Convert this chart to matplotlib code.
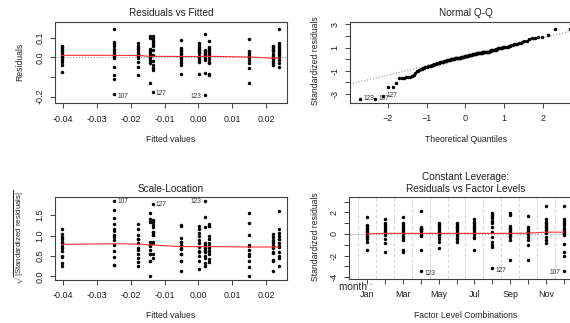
import statistics
import numpy as np
import matplotlib
matplotlib.use('Agg')
import matplotlib.pyplot as plt

plt.rcParams['font.family'] = ['Liberation Sans', 'DejaVu Sans']
plt.rcParams['mathtext.fontset'] = 'custom'
plt.rcParams['mathtext.rm'] = 'Liberation Sans'

##########################
# data
##########################

months = ['Jan', 'Feb', 'Mar', 'Apr', 'May', 'Jun',
          'Jul', 'Aug', 'Sep', 'Oct', 'Nov', 'Dec']

# fitted value (group mean) of each month
fitted = [-0.0053, -0.0178, 0.0031, 0.0019, -0.0405, 0.0222,
          0.0002, -0.0136, -0.0143, 0.0150, 0.0238, -0.0251]

# standardized residuals per month
sr_jan = [1.60, 0.87, 0.72, 0.58, 0.44, 0.30, 0.15, 0.02, -0.15, -0.30, -0.50, -0.70, -1.52]
sr_feb = [1.35, 1.04, 0.86, 0.67, 0.49, 0.31, 0.20, 0.12, -0.06, -0.43, -0.86, -1.65]
sr_mar = [1.53, 0.98, 0.83, 0.67, 0.49, 0.31, 0.12, -0.18, -0.40, -0.55, -1.50, -1.65]
sr_apr = [2.11, 0.67, 0.58, 0.50, 0.42, 0.35, 0.25, 0.10, -0.06, -0.21, -1.47, -3.45]
sr_may = [1.06, 0.94, 0.82, 0.67, 0.54, 0.40, 0.23, 0.10, -0.07, -0.25, -0.48, -0.73, -1.34]
sr_jun = [1.06, 0.93, 0.78, 0.66, 0.54, 0.35, 0.16, 0.02, -0.14, -0.33, -0.49, -0.71]
sr_jul = [1.35, 1.13, 0.98, 0.80, 0.67, 0.52, 0.37, 0.15, -0.03, -0.24, -0.40, -1.50]
sr_aug = [1.93, 1.80, 1.59, 1.44, 1.20, 1.04, 0.67, 0.21, -0.31, -0.70, -1.01, -1.16, -3.18]
sr_sep = [1.96, 1.80, 0.73, 0.58, 0.43, 0.31, 0.15, 0.00, -0.15, -0.31, -0.55, -2.39]
sr_oct = [1.71, 0.61, 0.43, 0.31, 0.15, 0.05, 0.00, -0.24, -0.55, -1.01, -2.42]
sr_nov = [2.57, 1.35, 1.13, 0.98, 0.83, 0.67, 0.52, 0.37, 0.21, 0.06, -0.24, -0.55, -0.86]
sr_dec = [2.62, 1.37, 1.22, 1.05, 0.80, 0.60, 0.40, 0.22, 0.08, -0.08, -0.94, -1.63, -2.02, -3.40]

std_res = [sr_jan, sr_feb, sr_mar, sr_apr, sr_may, sr_jun,
           sr_jul, sr_aug, sr_sep, sr_oct, sr_nov, sr_dec]

resid_scale = 0.055  # raw residual per standardized unit

# red smoother lines, value at each month
smooth_resid = [0.004, 0.009, 0.005, 0.005, 0.010, -0.005,
                0.004, 0.005, 0.005, 0.0015, -0.005, 0.010]
smooth_scale = [0.73, 0.79, 0.73, 0.73, 0.785, 0.72,
                0.73, 0.77, 0.77, 0.72, 0.72, 0.80]
smooth_lev = [0.0, 0.06, 0.06, 0.06, 0.06, 0.06,
              0.06, 0.06, 0.06, 0.08, 0.17, 0.17]

# labelled observations (lowest point of the month)
labelled = [('Apr', 123), ('Aug', 127), ('Dec', 107)]

##########################
# derived series
##########################

fx, rs, mi = [], [], []
for k, vals in enumerate(std_res):
	for v in vals:
		fx.append(fitted[k])
		rs.append(v)
		mi.append(k + 1)
fx = np.array(fx)
rs = np.array(rs)
mi = np.array(mi)
res = rs * resid_scale
sq = np.sqrt(np.abs(rs))

lab_pts = []
for m, obs in labelled:
	k = months.index(m)
	idx = np.where(mi == k + 1)[0]
	j = idx[np.argmin(rs[idx])]
	lab_pts.append((j, str(obs)))

W, H = 570, 323
fig = plt.figure(figsize=(W / 100, H / 100), dpi=100)

def box(l, t, r, b):
	ax = fig.add_axes([l / W, 1 - b / H, (r - l) / W, (b - t) / H])
	for s in ax.spines.values():
		s.set_color('#404040')
		s.set_linewidth(0.8)
	ax.tick_params(direction='out', length=3.6, width=0.7, color='#404040',
		labelsize=6.5, pad=4.5, labelcolor='#222222')
	ax.tick_params(axis='y', labelrotation=90, pad=4.0)
	for t in ax.get_yticklabels():
		t.set_va('center')
	return ax

def ftext(x, y, s, size=6.2, **kw):
	fig.text(x / W, 1 - y / H, s, fontsize=size, ha='center', va='center',
		color='#222222', **kw)

def dots(ax, x, y):
	ax.plot(x, y, 'o', ms=2.5, mew=0, color='black', clip_on=False)

def label(ax, x, y, s, right=True, dy=-1.5):
	ax.annotate(s, (x, y), xytext=(2.5 if right else -2.5, dy),
		textcoords='offset points', fontsize=4.8, color='#333333',
		ha='left' if right else 'right', va='center')

order = np.argsort(fitted)
fit_sorted = np.array(fitted)[order]

# ---- Residuals vs Fitted
ax1 = box(55, 21.7, 287, 103.3)
ax1.set_xlim(-0.04246, 0.0262)
ax1.set_ylim(-0.234, 0.181)
ax1.axhline(0, ls=':', color='#999999', lw=0.8)
dots(ax1, fx, res)
ax1.plot(fit_sorted, np.array(smooth_resid)[order], color='#ff3030', lw=0.8)
ax1.set_xticks([-0.04, -0.03, -0.02, -0.01, 0.0, 0.01, 0.02])
ax1.set_xticklabels(['-0.04', '-0.03', '-0.02', '-0.01', '0.00', '0.01', '0.02'])
ax1.set_yticks([-0.2, -0.1, 0.0, 0.1])
ax1.set_yticklabels(['-0.2', '', '0.0', '0.1'])
for j, s in lab_pts:
	right = fx[j] < -0.008
	label(ax1, fx[j], res[j], s, right)

ftext(171, 13.3, 'Residuals vs Fitted', size=7.2)
ftext(171, 139, 'Fitted values')
ftext(20, 62, 'Residuals', rotation=90)

# ---- Normal Q-Q
ax2 = box(350, 21.7, 582, 103)
ax2.set_xlim(-2.98, 3.01)
ax2.set_ylim(-3.77, 3.24)
n = len(rs)
rank = np.argsort(rs)
ys = rs[rank]
nd = statistics.NormalDist()
qx = np.array([nd.inv_cdf((i + 0.5) / n) for i in range(n)])
yq = np.quantile(rs, [0.25, 0.75])
xq = np.array([nd.inv_cdf(0.25), nd.inv_cdf(0.75)])
slope = (yq[1] - yq[0]) / (xq[1] - xq[0])
ax2.axline((0, yq[0] - slope * xq[0]), slope=slope, ls=':', color='#999999', lw=0.8)
dots(ax2, qx, ys)
pos = {r: i for i, r in enumerate(rank)}
for j, s in lab_pts:
	label(ax2, qx[pos[j]], ys[pos[j]], s, True, dy=0.5)
ax2.set_xticks([-2, -1, 0, 1, 2])
ax2.set_yticks([-3, -2, -1, 0, 1, 2, 3])
ax2.set_yticklabels(['-3', '', '-1', '', '1', '', '3'])

ftext(466, 13.3, 'Normal Q-Q', size=7.2)
ftext(466, 139, 'Theoretical Quantiles')
ftext(315, 61, 'Standardized residuals', rotation=90)

# ---- Scale-Location
ax3 = box(55, 197.3, 287, 279.5)
ax3.set_xlim(-0.04246, 0.0262)
ax3.set_ylim(-0.078, 1.94)
dots(ax3, fx, sq)
ax3.plot(fit_sorted, np.array(smooth_scale)[order], color='#ff3030', lw=0.8)
ax3.set_xticks([-0.04, -0.03, -0.02, -0.01, 0.0, 0.01, 0.02])
ax3.set_xticklabels(['-0.04', '-0.03', '-0.02', '-0.01', '0.00', '0.01', '0.02'])
ax3.set_yticks([0.0, 0.5, 1.0, 1.5])
ax3.set_yticklabels(['0.0', '0.5', '1.0', '1.5'])
for j, s in lab_pts:
	right = fx[j] < -0.008
	label(ax3, fx[j], sq[j], s, right, dy=-0.5)

ftext(171, 189.3, 'Scale-Location', size=7.2)
ftext(171, 316, 'Fitted values')
ftext(19, 237, r'$\sqrt{|\mathrm{Standardized\ residuals}|}$', size=5.6, rotation=90)

# ---- Constant Leverage
ax4 = box(349, 197.3, 581, 279)
ax4.set_xlim(-0.02, 12.97)
ax4.set_ylim(-4.17, 3.40)
for k in range(13):
	ax4.axvline(k + 0.5, ls=(0, (3, 2)), color='#d8d8d8', lw=0.8)
ax4.axhline(0, ls=':', color='#999999', lw=0.8)
dots(ax4, mi, rs)
ax4.plot(range(1, 13), smooth_lev, color='#ff3030', lw=0.8)
ax4.set_xticks(range(1, 13))
ax4.set_xticklabels([m if k % 2 == 0 else '' for k, m in enumerate(months)])
ax4.set_yticks([-4, -3, -2, -1, 0, 1, 2, 3])
ax4.set_yticklabels(['-4', '', '-2', '', '0', '', '2', ''])
for j, s in lab_pts:
	right = mi[j] < 11
	label(ax4, mi[j], rs[j], s, right)

ftext(466, 176.7, 'Constant Leverage:', size=7.2)
ftext(466, 189.3, 'Residuals vs Factor Levels', size=7.2)
ftext(466, 316, 'Factor Level Combinations')
ftext(315, 237, 'Standardized residuals', rotation=90)
ftext(356, 286.5, 'month :', size=7.2)

fig.savefig('out.png', dpi=100)
